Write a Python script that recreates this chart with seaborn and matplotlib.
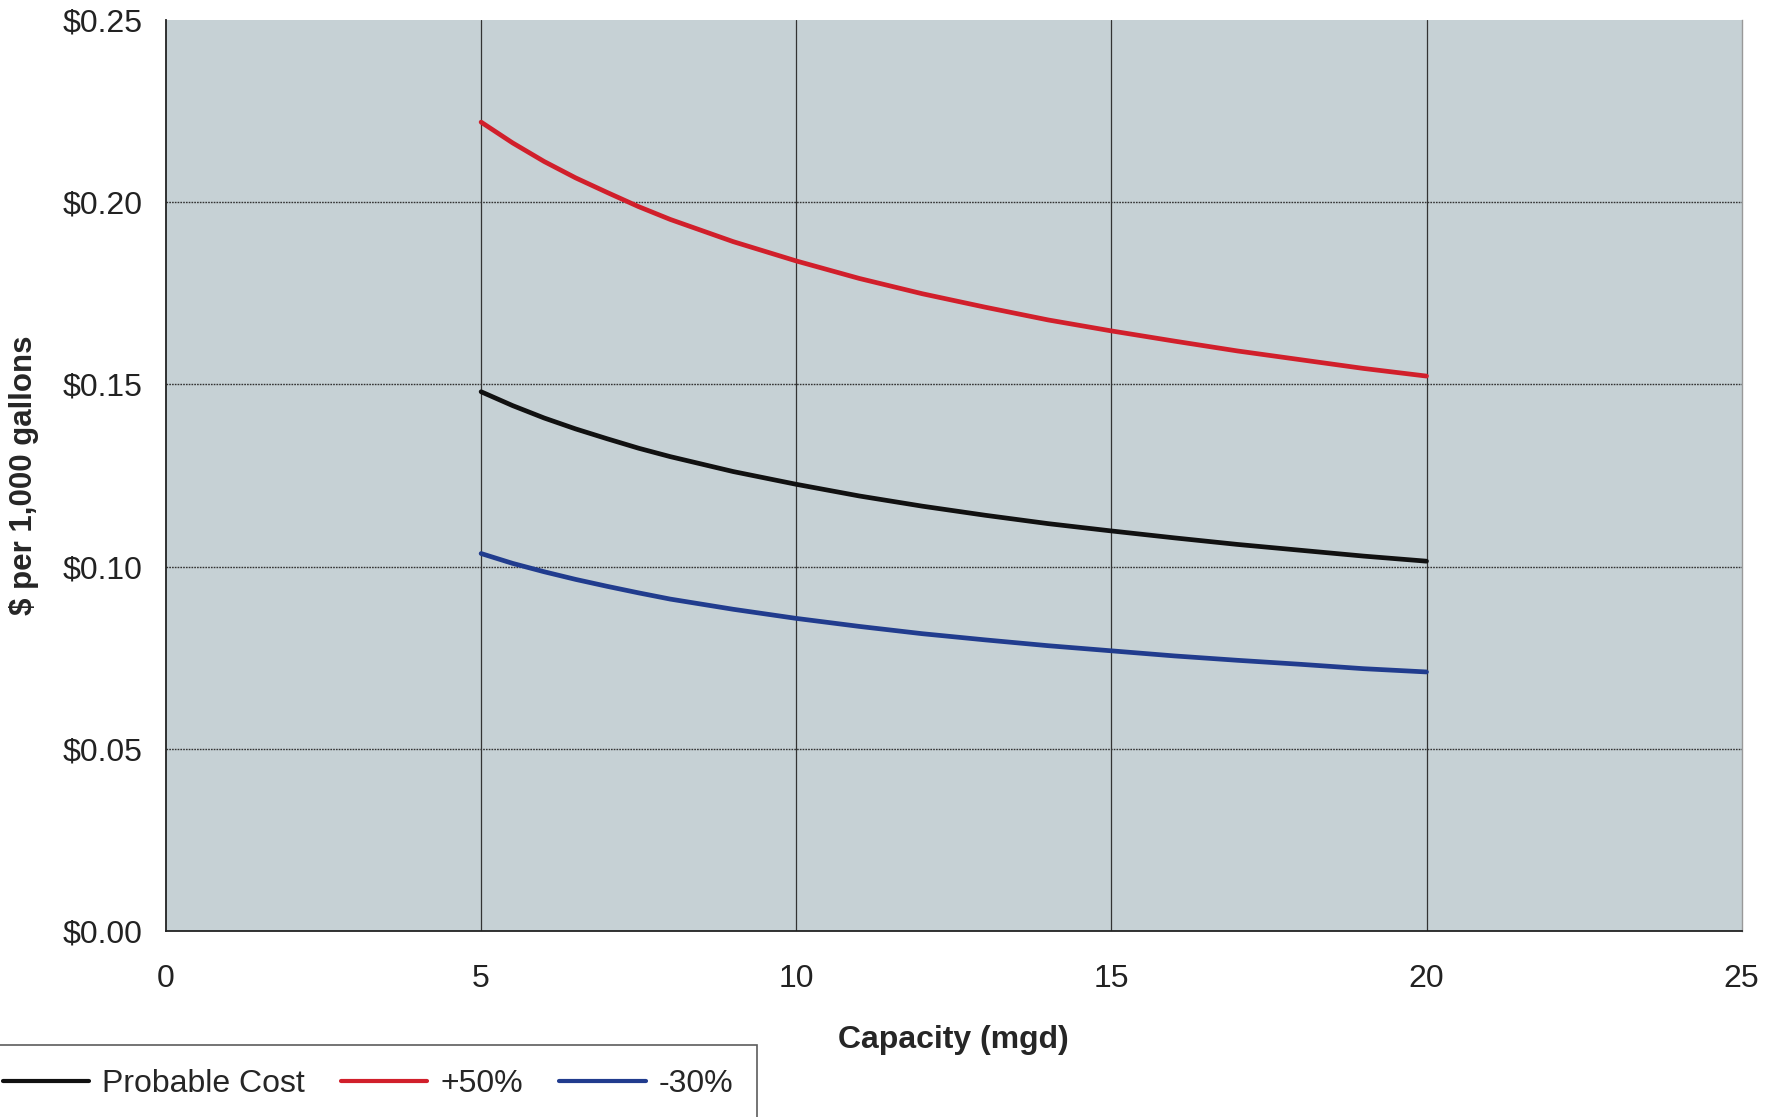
import matplotlib
matplotlib.use("Agg")
import matplotlib.pyplot as plt
import seaborn as sns
import pandas as pd

# Plant capacity (mgd) and unit cost ($ per 1,000 gallons)
capacity = [5, 5.5, 6, 6.5, 7, 7.5, 8, 9, 10, 11, 12, 13, 14, 15, 16, 17, 18, 19, 20]
probable_cost = [0.1480, 0.1442, 0.1408, 0.1378, 0.1351, 0.1325, 0.1302, 0.1261,
                 0.1226, 0.1194, 0.1166, 0.1141, 0.1118, 0.1098, 0.1079, 0.1061,
                 0.1045, 0.1029, 0.1015]
plus_50 = [0.2220, 0.2163, 0.2112, 0.2067, 0.2027, 0.1988, 0.1953, 0.1892,
           0.1839, 0.1791, 0.1749, 0.1712, 0.1677, 0.1647, 0.1619, 0.1592,
           0.1568, 0.1544, 0.1523]
minus_30 = [0.1036, 0.1009, 0.0986, 0.0965, 0.0946, 0.0928, 0.0911, 0.0883,
            0.0858, 0.0836, 0.0816, 0.0799, 0.0783, 0.0769, 0.0755, 0.0743,
            0.0732, 0.0720, 0.0711]
series_names = ["Probable Cost", "+50%", "-30%"]
x_ticks = [0, 5, 10, 15, 20, 25]
y_ticks = [0.00, 0.05, 0.10, 0.15, 0.20, 0.25]

df = pd.concat([
    pd.DataFrame({"Capacity": capacity, "Cost": vals, "Case": name})
    for name, vals in zip(series_names, [probable_cost, plus_50, minus_30])
])

sns.set_style("white")
plt.rcParams["font.family"] = ["Liberation Sans", "DejaVu Sans"]

fig = plt.figure(figsize=(17.79, 11.17), dpi=100)
ax = fig.add_axes([0.0933, 0.1665, 0.8857, 0.8155])
ax.set_facecolor("#c6d1d5")

palette = {"Probable Cost": "#111111", "+50%": "#d11f2b", "-30%": "#213c8e"}
sns.lineplot(data=df, x="Capacity", y="Cost", hue="Case", palette=palette,
             linewidth=3.4, ax=ax, legend=False)
for line in ax.get_lines():
    line.set_solid_joinstyle("round")

ax.set_xlim(0, 25)
ax.set_ylim(0, 0.25)
ax.set_xticks(x_ticks)
ax.set_xticklabels([str(t) for t in x_ticks])
ax.set_yticks(y_ticks)
ax.set_yticklabels([f"${t:.2f}" for t in y_ticks])
ax.tick_params(axis="both", labelsize=23, colors="#222222", length=0, pad=17)
ax.tick_params(axis="x", length=10, width=1, direction="out", pad=14)

for x in x_ticks[1:-1]:
    ax.axvline(x, color="#333333", linewidth=0.9, zorder=1)
for y in y_ticks[1:-1]:
    ax.axhline(y, color="#333333", linewidth=1.0, linestyle=(0, (1.2, 0.8)), zorder=1)

for side in ["left", "bottom"]:
    ax.spines[side].set_color("#222222")
    ax.spines[side].set_linewidth(1.3)
ax.spines["top"].set_visible(False)
ax.spines["right"].set_color("#999999")
ax.spines["right"].set_linewidth(1.0)

ax.set_xlabel("Capacity (mgd)", fontsize=23, fontweight="bold", labelpad=22)
ax.set_ylabel("$ per 1,000 gallons", fontsize=22.5, fontweight="bold")
ax.yaxis.set_label_coords(-0.0805, 0.5)

handles = [plt.Line2D([], [], color=palette[n], linewidth=3) for n in series_names]
leg = fig.legend(handles, series_names, loc="lower left",
                 bbox_to_anchor=(-0.021, -0.02), ncol=3, fontsize=23,
                 frameon=True, fancybox=False, edgecolor="#333333",
                 handlelength=2.7, columnspacing=1.15, handletextpad=0.4,
                 borderpad=0.75)
leg.get_frame().set_linewidth(1.2)

fig.savefig("out.png", dpi=100, facecolor="white")
